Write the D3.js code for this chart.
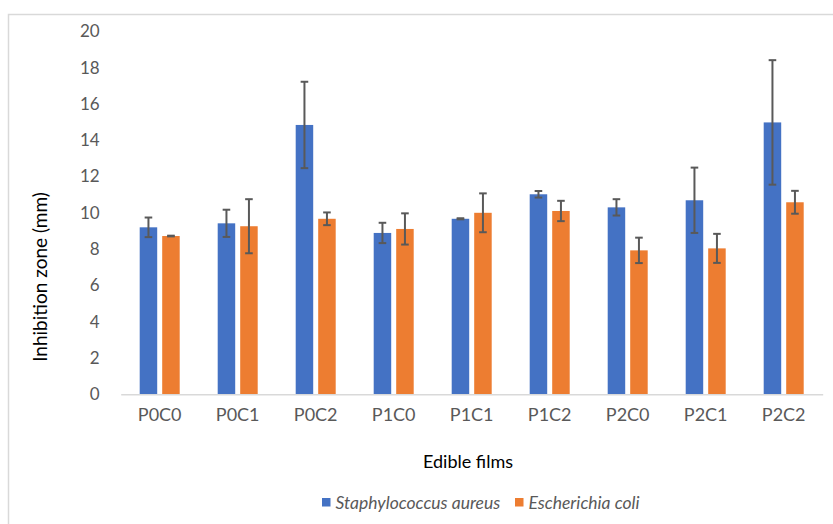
<!DOCTYPE html>
<html>
<head>
<meta charset="utf-8">
<script src="https://cdn.jsdelivr.net/npm/d3@7"></script>
<style>
  html, body { margin: 0; padding: 0; background: #fff; }
  svg { display: block; }
  text { font-family: Lato, "Open Sans", sans-serif; }
</style>
</head>
<body>
<svg id="chart" width="833" height="524"></svg>
<script>
// Inhibition zone (mm) of edible films against two bacteria, mean ± SD
const categories = ["P0C0", "P0C1", "P0C2", "P1C0", "P1C1", "P1C2", "P2C0", "P2C1", "P2C2"];
const seriesNames = ["Staphylococcus aureus", "Escherichia coli"];
const saureus   = [9.2, 9.42, 14.84, 8.89, 9.67, 11.02, 10.3, 10.69, 14.98];
const saureusSD = [0.54, 0.75, 2.38, 0.56, 0.03, 0.18, 0.45, 1.8, 3.43];
const ecoli     = [8.72, 9.26, 9.67, 9.11, 10.0, 10.1, 7.93, 8.04, 10.58];
const ecoliSD   = [0.02, 1.49, 0.35, 0.86, 1.07, 0.56, 0.7, 0.8, 0.63];
const yTicks = [0, 2, 4, 6, 8, 10, 12, 14, 16, 18, 20];

const colors = ["#4472C4", "#ED7D31"];
const values = [saureus, ecoli];
const sds = [saureusSD, ecoliSD];

const rows = categories.map((c, i) => ({
  cat: c,
  bars: seriesNames.map((s, k) => ({ series: s, k, value: values[k][i], sd: sds[k][i] }))
}));

const svg = d3.select("#chart");

// chart frame
svg.append("rect")
  .attr("x", 8.5).attr("y", 14.5)
  .attr("width", 840).attr("height", 520)
  .attr("fill", "#fff").attr("stroke", "#d9d9d9").attr("stroke-width", 1.5);

const plot = { left: 120.7, right: 822.7, top: 31.3, bottom: 394.3 };

const x0 = d3.scaleBand().domain(categories).range([plot.left, plot.right]).padding(0);
const x1 = d3.scaleBand().domain(seriesNames)
  .range([19, x0.bandwidth() - 19]).paddingInner(0.222).paddingOuter(0);
const y = d3.scaleLinear().domain([0, 20]).range([plot.bottom, plot.top]);

// y tick labels (no axis line)
const yAxis = svg.append("g")
  .attr("transform", `translate(${plot.left},0)`)
  .call(d3.axisLeft(y).tickValues(yTicks).tickSize(0).tickPadding(21));
yAxis.select(".domain").remove();
yAxis.selectAll("text")
  .attr("fill", "#595959").style("font-size", "17px");

// bars
const groups = svg.append("g").selectAll("g")
  .data(rows).join("g")
  .attr("transform", d => `translate(${x0(d.cat)},0)`);

groups.selectAll("rect")
  .data(d => d.bars).join("rect")
  .attr("x", d => x1(d.series))
  .attr("y", d => y(d.value))
  .attr("width", x1.bandwidth())
  .attr("height", d => y(0) - y(d.value))
  .attr("fill", d => colors[d.k]);

// error bars
const capHalf = 3.8;
const eb = groups.selectAll("g.err")
  .data(d => d.bars).join("g").attr("class", "err")
  .attr("stroke", "#595959").attr("stroke-width", 2);
eb.append("line")
  .attr("x1", d => x1(d.series) + x1.bandwidth() / 2)
  .attr("x2", d => x1(d.series) + x1.bandwidth() / 2)
  .attr("y1", d => y(d.value + d.sd))
  .attr("y2", d => y(d.value - d.sd));
eb.append("line")
  .attr("x1", d => x1(d.series) + x1.bandwidth() / 2 - capHalf)
  .attr("x2", d => x1(d.series) + x1.bandwidth() / 2 + capHalf)
  .attr("y1", d => y(d.value + d.sd))
  .attr("y2", d => y(d.value + d.sd));
eb.append("line")
  .attr("x1", d => x1(d.series) + x1.bandwidth() / 2 - capHalf)
  .attr("x2", d => x1(d.series) + x1.bandwidth() / 2 + capHalf)
  .attr("y1", d => y(d.value - d.sd))
  .attr("y2", d => y(d.value - d.sd));

// x axis
const xAxis = svg.append("g")
  .attr("transform", `translate(0,${plot.bottom})`)
  .call(d3.axisBottom(x0).tickSize(0).tickPadding(14));
xAxis.select(".domain").attr("stroke", "#d9d9d9").attr("stroke-width", 1.5);
xAxis.selectAll("text")
  .attr("fill", "#595959").style("font-size", "18px");

// axis titles
svg.append("text")
  .attr("x", 468).attr("y", 468)
  .attr("text-anchor", "middle")
  .attr("fill", "#000").style("font-size", "18px")
  .text("Edible films");

svg.append("text")
  .attr("transform", "translate(47,277) rotate(-90)")
  .attr("text-anchor", "middle")
  .attr("fill", "#000").style("font-size", "19px")
  .text("Inhibition zone (mm)");

// legend
const legend = svg.append("g");
const legendItems = [
  { name: seriesNames[0], color: colors[0], x: 322 },
  { name: seriesNames[1], color: colors[1], x: 515 }
];
legendItems.forEach(it => {
  legend.append("rect")
    .attr("x", it.x).attr("y", 498)
    .attr("width", 8.5).attr("height", 8.5)
    .attr("fill", it.color);
  legend.append("text")
    .attr("x", it.x + 13.5).attr("y", 509)
    .attr("fill", "#595959")
    .style("font-size", "17.5px").style("font-style", "italic")
    .text(it.name);
});
</script>
</body>
</html>
